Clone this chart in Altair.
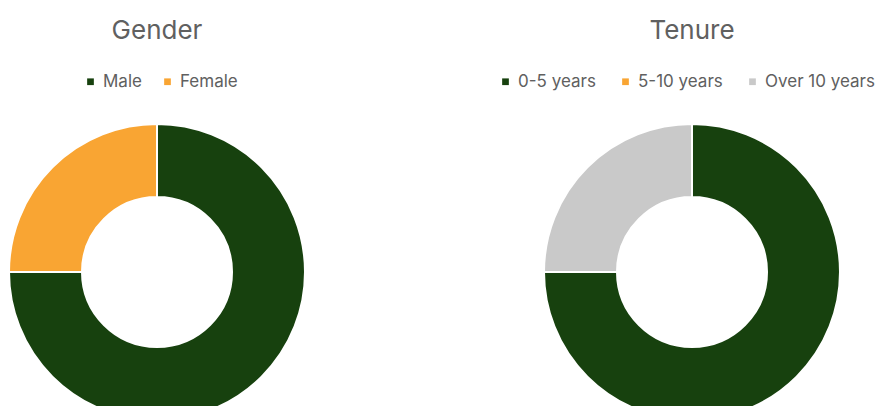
import altair as alt
import pandas as pd

# ---- data ----
titles = ["Gender", "Tenure"]
gender_labels = ["Male", "Female"]
gender_values = [75, 25]
gender_colors = ["#17410E", "#F9A533"]
tenure_labels = ["0-5 years", "5-10 years", "Over 10 years"]
tenure_values = [75, 0, 25]
tenure_colors = ["#17410E", "#F9A533", "#C9C9C9"]

FONT = "Inter"
TXT = "#606060"

gdf = pd.DataFrame({"label": gender_labels, "value": gender_values,
                    "order": list(range(len(gender_labels)))})
tdf = pd.DataFrame({"label": tenure_labels, "value": tenure_values,
                    "order": list(range(len(tenure_labels)))})


def donut(df, labels, colors, cx, cy, lx, ly, colpad):
    return alt.Chart(df).mark_arc(
        outerRadius=148, innerRadius=75, stroke="white", strokeWidth=2
    ).encode(
        theta=alt.Theta("value:Q", stack=True),
        order=alt.Order("order:Q"),
        color=alt.Color(
            "label:N",
            scale=alt.Scale(domain=labels, range=colors),
            legend=alt.Legend(
                title=None, orient="none", direction="horizontal",
                legendX=lx, legendY=ly, symbolType="square", symbolSize=45,
                symbolStrokeWidth=0, labelFontSize=17, labelFont=FONT,
                labelColor=TXT, columnPadding=colpad, labelOffset=4, padding=0,
            ),
        ),
        x=alt.value(cx),
        y=alt.value(cy),
    )


def title_mark(text, cx, cy):
    return alt.Chart(pd.DataFrame({"t": [text]})).mark_text(
        font=FONT, fontSize=26, color=TXT, baseline="alphabetic", align="center"
    ).encode(text="t:N", x=alt.value(cx), y=alt.value(cy))


chart = alt.layer(
    title_mark(titles[0], 149, 31),
    title_mark(titles[1], 684, 31),
    donut(gdf, gender_labels, gender_colors, 149, 264, 74, 65, 17),
    donut(tdf, tenure_labels, tenure_colors, 684, 264, 489, 65, 21),
).resolve_scale(
    color="independent", theta="independent"
).properties(
    width=876, height=398, autosize="none", padding=0
).configure_view(strokeWidth=0)

chart.save("out.html", embed_options={"renderer": "svg", "actions": False})
